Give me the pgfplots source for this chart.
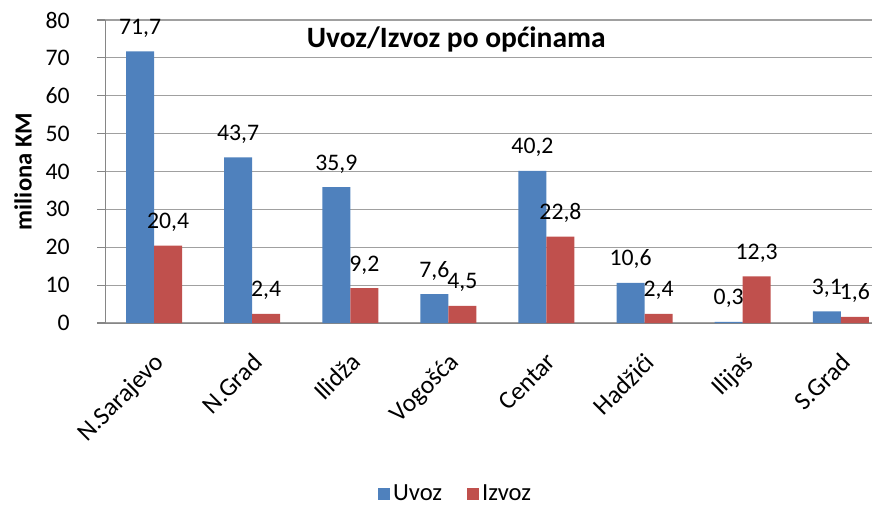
\documentclass[border=0pt]{standalone}
\usepackage{fontspec}
\setmainfont{Carlito}
\usepackage{pgfplots}
\pgfplotsset{compat=1.18}
\definecolor{cblue}{HTML}{4F81BD}
\definecolor{cred}{HTML}{C0504D}
\definecolor{axgray}{RGB}{134,134,134}
\definecolor{grgray}{RGB}{160,160,160}
\begin{document}
\begin{tikzpicture}
\begin{axis}[
  at={(2.1cm,3.64cm)}, anchor=south west,
  scale only axis, width=15.34cm, height=6.06cm,
  xmin=-0.5, xmax=7.318, ymin=0, ymax=80,
  clip=false,
  ybar=0pt, bar width=0.56cm,
  axis x line*=bottom, axis y line*=left,
  axis line style={draw=axgray, -},
  ytick={0,10,...,80},
  ymajorgrids, grid style={draw=grgray, line width=0.6pt},
  tick align=outside, major tick length=0.16cm,
  tick style={draw=axgray, line width=0.6pt},
  xtick={0,...,7},
  xticklabels={N.Sarajevo,N.Grad,Ilidža,Vogošća,Centar,Hadžići,Ilijaš,S.Grad},
  x tick style={draw=none},
  extra x ticks={-0.5,0.5,...,6.5},
  extra x tick labels={},
  extra x tick style={tick style={draw=axgray, line width=0.6pt}, grid=none},
  /pgf/number format/assume math mode=true,
  /pgf/number format/use comma,
  yticklabel style={font=\fontsize{13.5}{15}\selectfont, inner sep=0pt, xshift=-0.54cm},
  xticklabel style={font=\fontsize{14.5}{16}\selectfont, xshift=-0.02cm, yshift=-0.4cm, rotate=45, anchor=north east, inner sep=0pt},
  ylabel={miliona KM},
  every axis y label/.style={at={(rel axis cs:0,0.5)}, xshift=-1.64cm, rotate=90, anchor=center, font=\bfseries\fontsize{14}{16}\selectfont},
  nodes near coords,
  nodes near coords style={/pgf/number format/fixed, /pgf/number format/fixed zerofill, /pgf/number format/precision=1},
  every node near coord/.append style={anchor=base, inner sep=0pt, yshift=0.34cm, font=\fontsize{13.5}{15}\selectfont, text=black},
  legend style={at={(rel axis cs:0.4577,-0.565)}, anchor=center, draw=none, fill=none,
    legend columns=2, font=\fontsize{14}{16}\selectfont,
    /tikz/every even column/.append style={column sep=0.42cm}},
  legend image code/.code={\fill[#1] (0cm,-0.12cm) rectangle (0.24cm,0.12cm);},
]
\addplot[fill=cblue, draw=none] coordinates {(0,71.7) (1,43.7) (2,35.9) (3,7.6) (4,40.2) (5,10.6) (6,0.3) (7,3.1)};
\addplot[fill=cred, draw=none] coordinates {(0,20.4) (1,2.4) (2,9.2) (3,4.5) (4,22.8) (5,2.4) (6,12.3) (7,1.6)};
\legend{Uvoz, Izvoz}
\node[anchor=base, font=\bfseries\fontsize{16.8}{19}\selectfont] at (rel axis cs:0.458,0.908) {Uvoz/Izvoz po općinama};
\end{axis}
\pgfresetboundingbox
\useasboundingbox (0,0) rectangle (17.44cm,10.1cm);
\end{tikzpicture}
\end{document}
